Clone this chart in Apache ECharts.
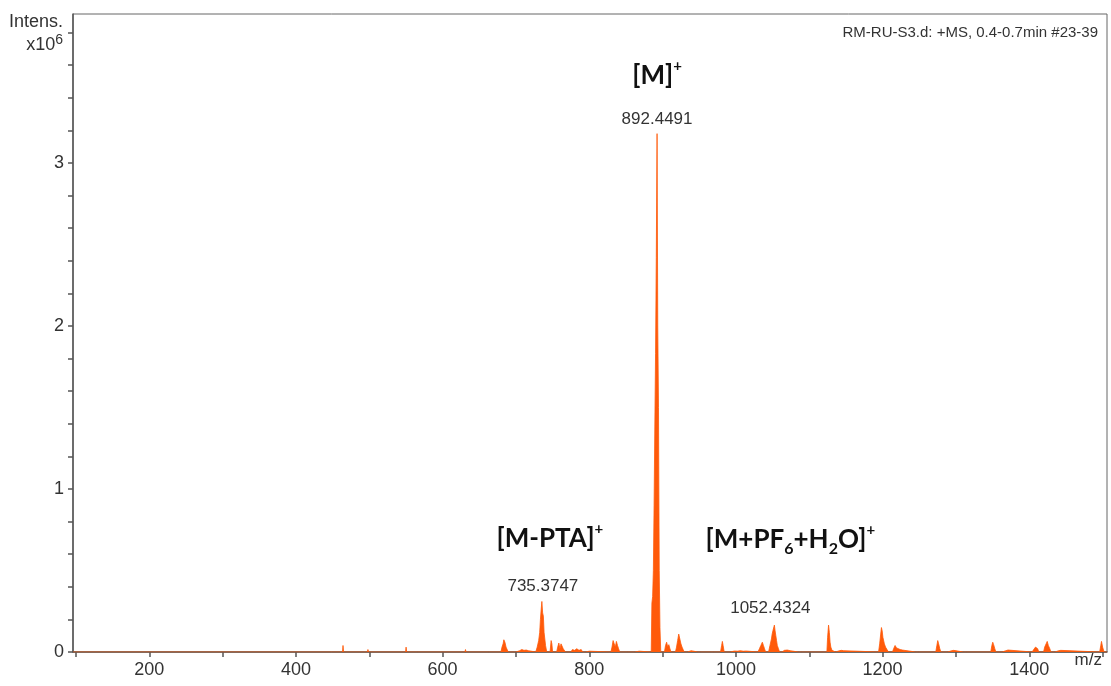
<!DOCTYPE html>
<html>
<head>
<meta charset="utf-8">
<script src="https://cdn.jsdelivr.net/npm/echarts@6/dist/echarts.min.js"></script>
<style>
html,body{margin:0;padding:0;background:#fff;}
#c{width:1111px;height:686px;}
</style>
</head>
<body>
<div id="c"></div>
<script>
// ---- spectrum profile (m/z, intensity in units of 1e6) ----
const mz = [
  96,
  463.5,464.2,465, 497.5,498.2,499, 549.5,550.2,551, 565.5,566.2,567,
  630.5,631.2,632, 662.5,663.2,664,
  679.5,681,682.5,683.5,685,686.5,688,689.5,
  700,702,705,708,711,714,717,719,
  727,729,731,732.4,733.4,734.4,735.37,736.4,737.4,738.4,739.4,740.4,742,
  746.5,748,749,750,
  755.5,757,758.5,760,761.5,763,764.5,766,767.5,
  775,777,780,783,786,789,791,
  795,797,800,802,
  829.5,831,832.5,834,835.5,837,838.5,840,841.5,
  852,853,854, 862,864,868,870,
  884.5,885.4,886.4,887.4,888.4,889.4,890.4,891.4,892.45,893.4,894.4,895.4,896.4,897.5,
  902.5,904,905.5,907,908.5,910,911.5,
  917.5,919,920.5,922,923.5,925,926.5,928,929.5,
  934,936,939,941, 948,950,952, 965,967,969,
  979,980.5,981.5,982.5,984,
  992,994,998,1002,1006,1010,1014,1016,
  1030,1032,1034,1036,1037.5,1039,1040.5,
  1044.5,1046.4,1048.4,1049.4,1050.4,1051.4,1052.43,1053.4,1054.4,1055.4,1056.4,1058,1059.5,
  1063,1066,1070,1074,1076, 1085,1087,1089,
  1124,1125,1126.3,1127.4,1128.4,1129.4,1131,1132,
  1136,1138,1141,1144,1147,1149,
  1194.5,1196,1197.4,1198.4,1199.4,1200.4,1201.4,1202.4,1204,1206,1208,
  1213.5,1215,1217,1219,1221,1224,1227,1229,
  1245,1247,1249,
  1272.5,1274,1275.2,1276.4,1278,1279.5,
  1289,1291,1294,1297,1299, 1310,1312,1314,
  1347.5,1349,1350.2,1351.4,1353,1354.5,
  1363,1365,1368,1371,1373,
  1404,1406,1408.5,1410,1411.5,1413,
  1419.5,1421,1423,1424.5,1426,1428,1429.5,
  1435,1437,1440,1443,1445,
  1496,1497.5,1498.5,1500,1502,
  1506
];
const intensity = [
  0,
  0,0.04,0, 0,0.015,0, 0,0.03,0, 0,0.01,0,
  0,0.015,0, 0,0.01,0,
  0,0.03,0.05,0.075,0.06,0.03,0.02,0,
  0,0.012,0.008,0.015,0.01,0.012,0.008,0,
  0,0.03,0.07,0.12,0.2,0.26,0.31,0.24,0.22,0.12,0.08,0.04,0,
  0,0.07,0.05,0,
  0,0.03,0.055,0.02,0.05,0.045,0.02,0.03,0,
  0,0.015,0.01,0.02,0.01,0.015,0,
  0,0.008,0.005,0,
  0,0.03,0.07,0.05,0.03,0.065,0.04,0.02,0,
  0,0.012,0, 0,0.006,0.005,0,
  0,0.3,0.34,0.5,0.9,1.38,1.83,2.42,3.18,2.0,1.5,0.5,0.15,0,
  0,0.04,0.06,0.03,0.045,0.02,0,
  0,0.03,0.07,0.11,0.08,0.05,0.03,0.015,0,
  0,0.01,0.008,0, 0,0.005,0, 0,0.01,0,
  0,0.04,0.065,0.04,0,
  0,0.005,0.006,0.005,0.008,0.005,0.006,0,
  0,0.02,0.04,0.06,0.04,0.02,0,
  0,0.04,0.08,0.11,0.13,0.14,0.165,0.13,0.1,0.07,0.04,0.02,0,
  0,0.01,0.012,0.008,0, 0,0.005,0,
  0,0.09,0.165,0.12,0.06,0.03,0.01,0,
  0,0.012,0.008,0.01,0.008,0,
  0,0.05,0.11,0.15,0.13,0.09,0.08,0.05,0.03,0.015,0,
  0,0.02,0.04,0.025,0.015,0.015,0.012,0,
  0,0.005,0,
  0,0.04,0.07,0.05,0.02,0,
  0,0.01,0.008,0.01,0, 0,0.005,0,
  0,0.04,0.06,0.045,0.02,0,
  0,0.012,0.008,0.012,0,
  0,0.015,0.03,0.04,0.02,0,
  0,0.03,0.05,0.065,0.04,0.02,0,
  0,0.01,0.008,0.01,0,
  0,0.04,0.065,0.03,0,
  0
];

// ---- peak labels ----
const peakLabelMz   = [892.4491, 735.3747, 1052.4324];
const peakLabelInt  = [3.18, 0.31, 0.165];
const peakLabelText = ['892.4491', '735.3747', '1052.4324'];

// ---- ion annotations ----
const ionText = ['[M]{sup|+}', '[M-PTA]{sup|+}', '[M+PF{sub|6}+H{sub|2}O]{sup|+}'];

// ---- axes ----
const xMin = 96, xMax = 1506;
const yMin = 0, yMax = 3.914;
const xTickLabels = [200, 400, 600, 800, 1000, 1200, 1400];
const xTicks = [100, 200, 300, 400, 500, 600, 700, 800, 900, 1000, 1100, 1200, 1300, 1400, 1500];
const yTickLabels = [0, 1, 2, 3];
const yTicks = [0, 0.2, 0.4, 0.6, 0.8, 1, 1.2, 1.4, 1.6, 1.8, 2, 2.2, 2.4, 2.6, 2.8, 3, 3.2, 3.4, 3.6, 3.8];

const titleText = 'RM-RU-S3.d: +MS, 0.4-0.7min #23-39';

const FONT = "'Liberation Sans', Arial, sans-serif";
const BOLD = "Lato, 'Open Sans', sans-serif";
const ORANGE = '#FF5A0A';

const chart = echarts.init(document.getElementById('c'), null, {renderer: 'canvas'});

const peakLabelOffsets = [[0, -14], [1, -15], [-4, -17]];
const ionOffsets = [[0, -58], [8, -63], [16, -85]];

const labelItems = [];
peakLabelMz.forEach((m, i) => {
  labelItems.push({
    value: [m, peakLabelInt[i]],
    label: {
      show: true, position: 'inside', offset: peakLabelOffsets[i], opacity: 1,
      formatter: peakLabelText[i],
      fontFamily: FONT, fontSize: 17, color: '#333'
    }
  });
  labelItems.push({
    value: [m, peakLabelInt[i]],
    label: {
      show: true, position: 'inside', offset: ionOffsets[i], opacity: 1,
      formatter: ionText[i],
      fontFamily: BOLD, fontWeight: 'bold', fontSize: 26, lineHeight: 34, color: '#111',
      rich: {
        sup: {fontFamily: BOLD, fontWeight: 'bold', fontSize: 15, lineHeight: 20, verticalAlign: 'top', color: '#111'},
        sub: {fontFamily: BOLD, fontWeight: 'bold', fontSize: 16, lineHeight: 15, verticalAlign: 'bottom', color: '#111'}
      }
    }
  });
});

chart.setOption({
  animation: false,
  backgroundColor: '#fff',
  title: {
    text: titleText, right: 8, top: 20,
    textStyle: {fontFamily: FONT, fontSize: 15, fontWeight: 'normal', color: '#333'}
  },
  grid: {left: 73, right: 4, top: 14, bottom: 34, show: true, borderColor: '#666', borderWidth: 1},
  xAxis: {
    type: 'value', min: xMin, max: xMax,
    axisLine: {show: true, lineStyle: {color: '#555', width: 1.5}},
    axisTick: {show: true, length: 5, inside: false, customValues: xTicks, lineStyle: {color: '#555', width: 1.5}},
    axisLabel: {customValues: xTickLabels, formatter: v => String(v), fontFamily: FONT, fontSize: 18, color: '#333', margin: 9},
    splitLine: {show: false}
  },
  yAxis: {
    type: 'value', min: yMin, max: yMax,
    axisLine: {show: true, lineStyle: {color: '#555', width: 1.5}},
    axisTick: {show: true, length: 5, inside: false, customValues: yTicks, lineStyle: {color: '#555', width: 1.5}},
    axisLabel: {customValues: yTickLabels, formatter: v => String(v), fontFamily: FONT, fontSize: 18, color: '#333', margin: 9},
    splitLine: {show: false}
  },
  graphic: [
    {type: 'text', right: 1111 - 63, top: 13, style: {text: 'Intens.', font: "18px " + FONT, fill: '#333'}},
    {type: 'text', right: 1111 - 63, top: 33, style: {
      text: 'x10{sup|6}', font: "18px " + FONT, fill: '#333', lineHeight: 24,
      rich: {sup: {fontFamily: FONT, fontSize: 14, lineHeight: 14, verticalAlign: 'top', fill: '#333'}}
    }},
    {type: 'text', right: 9, top: 652, style: {text: 'm/z', font: "17px " + FONT, fill: '#333'}}
  ],
  series: [{
    type: 'line',
    data: mz.map((m, i) => [m, intensity[i]]),
    showSymbol: false,
    symbol: 'none',
    sampling: 'none',
    lineStyle: {color: ORANGE, width: 0.8},
    areaStyle: {color: ORANGE, opacity: 1},
    z: 2
  }, {
    type: 'scatter',
    data: labelItems,
    symbolSize: 1,
    itemStyle: {color: 'rgba(0,0,0,0)'},
    silent: true,
    z: 5
  }]
});
</script>
</body>
</html>
